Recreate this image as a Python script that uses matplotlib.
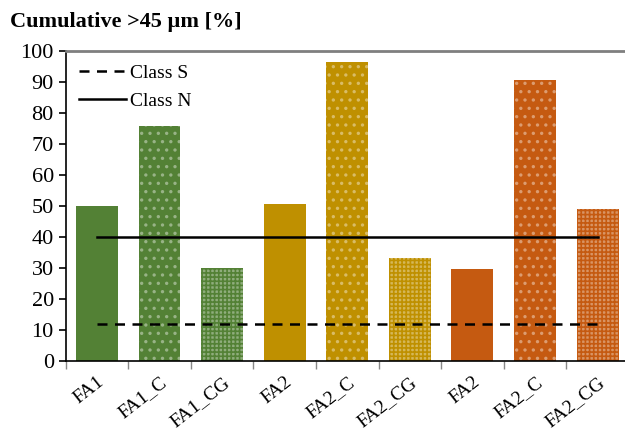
import matplotlib.pyplot as plt
import numpy as np

# data
labels = ["FA1", "FA1_C", "FA1_CG", "FA2", "FA2_C", "FA2_CG", "FA2", "FA2_C", "FA2_CG"]
values = [50.0, 75.8, 30.0, 50.6, 96.5, 33.4, 29.7, 90.6, 49.0]
class_s = 12
class_n = 40

base = ["#538135", "#538135", "#538135",
        "#BF9000", "#BF9000", "#BF9000",
        "#C55A11", "#C55A11", "#C55A11"]
kinds = ["solid", "dot", "check"] * 3


def lighten(c, f):
    rgb = np.array([int(c[i:i + 2], 16) for i in (1, 3, 5)]) / 255
    return tuple(rgb + (1 - rgb) * f)


plt.rcParams["font.family"] = ["Liberation Serif", "DejaVu Serif"]
plt.rcParams["hatch.linewidth"] = 1.2

fig = plt.figure(figsize=(6.25, 4.34), dpi=100)
ax = fig.add_axes([0.105, 0.168, 0.9013, 0.7143])

x = np.arange(len(values))
for xi, v, c, k in zip(x, values, base, kinds):
    if k == "solid":
        ax.bar(xi, v, width=0.67, color=c, lw=0)
    elif k == "dot":
        ax.bar(xi, v, width=0.67, facecolor=c, edgecolor=lighten(c, 0.4),
               hatch="..", lw=0)
    else:
        ax.bar(xi, v, width=0.67, facecolor=lighten(c, 0.35),
               edgecolor=c, hatch="++++", lw=0)

ax.plot([x[0], x[-1]], [class_s, class_s], color="black", ls=(0, (4, 3)),
        lw=1.8, label="Class S")
ax.plot([x[0], x[-1]], [class_n, class_n], color="black", lw=1.8,
        label="Class N")

ax.set_xlim(-0.5, len(values) - 0.5)
ax.set_ylim(0, 100)
ax.set_yticks(np.arange(0, 101, 10))
ax.tick_params(axis="y", labelsize=16, length=5, width=1.2, direction="out")

ax.set_xticks(x)
ax.set_xticklabels(labels, rotation=38, ha="right", rotation_mode="anchor",
                   fontsize=14)
ax.tick_params(axis="x", which="major", length=0, pad=9)
ax.set_xticks(np.arange(-0.5, len(values)), minor=True)
ax.tick_params(axis="x", which="minor", length=6, width=1, color="#888888",
               direction="out")

ax.spines["right"].set_visible(False)
ax.spines["top"].set_color("#7f7f7f")
ax.spines["top"].set_linewidth(2)
ax.spines["left"].set_linewidth(1.2)
ax.spines["bottom"].set_linewidth(1.2)

ax.legend(loc="upper left", frameon=False, fontsize=14, handlelength=2.4,
          handletextpad=0.2, labelspacing=0.5, borderaxespad=0.3)

fig.text(0.016, 1 - 22 / 434, "Cumulative >45 µm [%]", fontsize=16,
         fontweight="bold", va="center", ha="left")

fig.savefig("out.png", dpi=100)
